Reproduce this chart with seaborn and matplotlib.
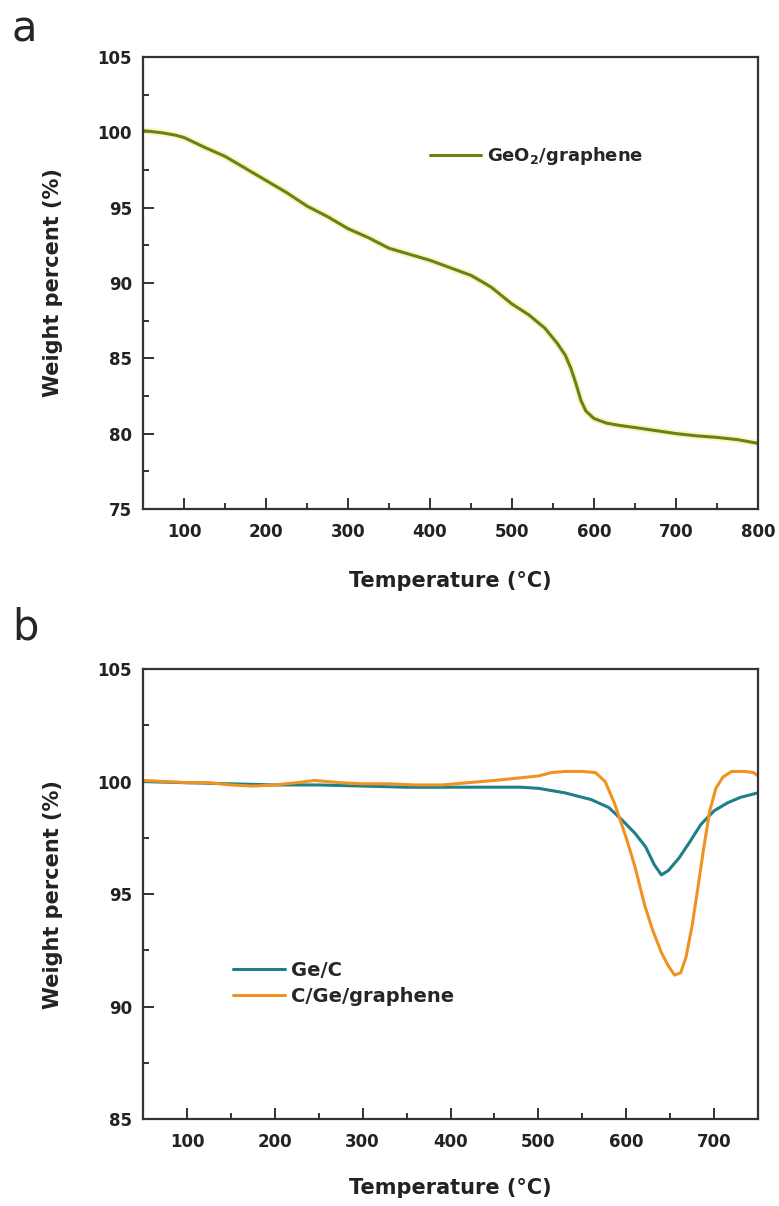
import numpy as np
import pandas as pd
import matplotlib
matplotlib.use("Agg")
import matplotlib.pyplot as plt
import seaborn as sns
from matplotlib.ticker import MultipleLocator

# Panel a: GeO2/graphene TGA curve
temp_a = [50, 60, 75, 90, 100, 125, 150, 175, 200, 225, 250, 275, 300, 325,
          350, 375, 400, 425, 450, 466, 475, 500, 520, 540, 555, 565, 572,
          578, 584, 590, 600, 615, 630, 650, 675, 700, 725, 750, 775, 800]
weight_a = [100.1, 100.05, 99.95, 99.8, 99.65, 99.0, 98.4, 97.6, 96.8, 96.0,
            95.1, 94.4, 93.6, 93.0, 92.3, 91.9, 91.5, 91.0, 90.5, 90.0, 89.7,
            88.6, 87.9, 87.0, 86.0, 85.2, 84.3, 83.3, 82.2, 81.5, 81.0, 80.7,
            80.55, 80.4, 80.2, 80.0, 79.85, 79.75, 79.6, 79.35]

# Panel b: Ge/C and C/Ge/graphene
temp_gec = [50, 100, 150, 200, 250, 300, 350, 400, 450, 480, 500, 530, 560,
            580, 595, 610, 622, 632, 640, 648, 660, 672, 685, 700, 715, 730, 750]
weight_gec = [100.0, 99.95, 99.9, 99.85, 99.85, 99.8, 99.75, 99.75, 99.75,
              99.75, 99.7, 99.5, 99.2, 98.85, 98.3, 97.7, 97.1, 96.3, 95.85,
              96.05, 96.6, 97.3, 98.1, 98.7, 99.05, 99.3, 99.5]

temp_cgg = [50, 75, 100, 125, 150, 175, 200, 225, 245, 275, 300, 330, 360,
            390, 420, 450, 475, 500, 515, 530, 550, 565, 576, 587, 593, 600,
            610, 621, 630, 640, 648, 655, 662, 668, 675, 682, 688, 695, 702,
            710, 720, 735, 745, 750]
weight_cgg = [100.05, 100.0, 99.95, 99.95, 99.85, 99.8, 99.85, 99.95, 100.05,
              99.95, 99.9, 99.9, 99.85, 99.85, 99.95, 100.05, 100.15, 100.25,
              100.4, 100.45, 100.45, 100.4, 100.0, 99.0, 98.3, 97.5, 96.2,
              94.5, 93.4, 92.4, 91.8, 91.4, 91.5, 92.2, 93.6, 95.4, 97.0,
              98.7, 99.7, 100.2, 100.45, 100.45, 100.4, 100.25]

sns.set_style("ticks")
plt.rcParams['font.family'] = ['DejaVu Sans']
plt.rcParams['font.weight'] = 'bold'
plt.rcParams['mathtext.default'] = 'bf'

fig = plt.figure(figsize=(7.79, 12.06), dpi=100)
ax_a = fig.add_axes([0.1836, 0.578, 0.7895, 0.3748])
ax_b = fig.add_axes([0.1836, 0.0721, 0.7895, 0.3731])

df_a = pd.DataFrame({'Temperature': temp_a, 'Weight': weight_a})
df_b = pd.concat([
    pd.DataFrame({'Temperature': temp_gec, 'Weight': weight_gec, 'Sample': 'Ge/C'}),
    pd.DataFrame({'Temperature': temp_cgg, 'Weight': weight_cgg, 'Sample': 'C/Ge/graphene'}),
])

# faint yellow halo like the original print
sns.lineplot(data=df_a, x='Temperature', y='Weight', ax=ax_a, color='#f2f0a0',
             lw=5, alpha=0.6, legend=False)
sns.lineplot(data=df_a, x='Temperature', y='Weight', ax=ax_a, color='#6f7f14',
             lw=2.2, label='GeO$_2$/graphene')

sns.lineplot(data=df_b, x='Temperature', y='Weight', hue='Sample', ax=ax_b,
             palette={'Ge/C': '#1d7f88', 'C/Ge/graphene': '#f09220'},
             lw=2.2, sort=False)

def style_axis(ax, xlim, ylim, xmaj, ymaj):
    ax.set_xlim(*xlim)
    ax.set_ylim(*ylim)
    ax.xaxis.set_major_locator(MultipleLocator(xmaj))
    ax.xaxis.set_minor_locator(MultipleLocator(50))
    ax.yaxis.set_major_locator(MultipleLocator(ymaj))
    ax.yaxis.set_minor_locator(MultipleLocator(2.5))
    ax.set_xticks([t for t in range(100, int(xlim[1]) + 1, 100)])
    for s in ax.spines.values():
        s.set_linewidth(1.6)
        s.set_color('#333333')
    ax.tick_params(which='both', direction='in', top=False, right=False,
                   width=1.4, color='#333333')
    ax.tick_params(which='major', length=8)
    ax.tick_params(which='minor', length=4.5)
    ax.tick_params(axis='x', which='major', pad=10, labelsize=12)
    ax.tick_params(axis='y', which='major', pad=8, labelsize=12)
    for lab in ax.get_xticklabels() + ax.get_yticklabels():
        lab.set_fontweight('bold')
        lab.set_color('#222222')
    ax.set_xlabel('Temperature (°C)', fontsize=15, fontweight='bold', color='#222222')
    ax.set_ylabel('Weight percent (%)', fontsize=15, fontweight='bold', color='#222222')

style_axis(ax_a, (50, 800), (75, 105), 100, 5)
style_axis(ax_b, (50, 750), (85, 105), 100, 5)

ax_a.xaxis.set_label_coords(0.5, -0.137)
ax_b.xaxis.set_label_coords(0.5, -0.131)
ax_a.yaxis.set_label_coords(-0.13, 0.5)
ax_b.yaxis.set_label_coords(-0.13, 0.5)

ax_a.legend(loc='center left', bbox_to_anchor=(0.467, 0.781), frameon=False,
            borderaxespad=0, borderpad=0, handlelength=2.8, handletextpad=0.35,
            prop={'size': 13, 'weight': 'bold'})
leg_b = ax_b.legend(loc='center left', bbox_to_anchor=(0.146, 0.301), frameon=False,
                    borderaxespad=0, borderpad=0, handlelength=2.7,
                    handletextpad=0.3, labelspacing=0.35,
                    prop={'size': 14, 'weight': 'bold'})
for line in leg_b.get_lines():
    line.set_linewidth(2.2)

fig.text(12 / 779, (1206 - 41) / 1206, 'a', fontsize=30, fontweight='normal',
         va='baseline', ha='left')
fig.text(12 / 779, (1206 - 640) / 1206, 'b', fontsize=30, fontweight='normal',
         va='baseline', ha='left')

fig.savefig('out.png', dpi=100)
